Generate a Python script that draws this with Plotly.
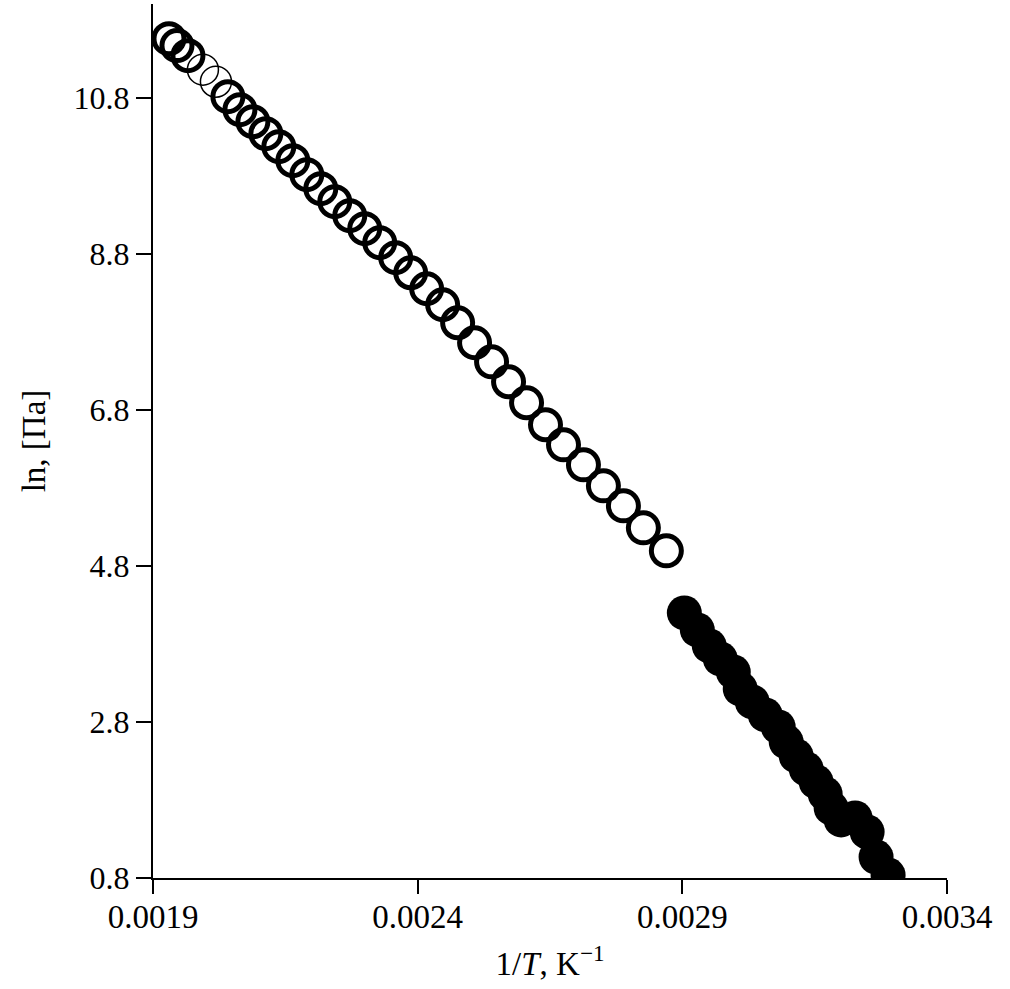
import plotly.graph_objects as go

# Open circles (thick outline)
open_x = [0.0019302, 0.0019453, 0.0019660, 0.0020415, 0.0020642, 0.0020887, 0.0021132,
          0.0021377, 0.0021642, 0.0021906, 0.0022170, 0.0022434, 0.0022717, 0.0023000,
          0.0023283, 0.0023585, 0.0023868, 0.0024170, 0.0024472, 0.0024755, 0.0025075,
          0.0025396, 0.0025717, 0.0026057, 0.0026415, 0.0026755, 0.0027132, 0.0027509,
          0.0027887, 0.0028264, 0.0028698]
open_y = [11.556, 11.467, 11.338, 10.813, 10.646, 10.492, 10.338,
          10.172, 9.992, 9.813, 9.633, 9.467, 9.287, 9.121,
          8.941, 8.749, 8.556, 8.351, 8.146, 7.915, 7.659,
          7.415, 7.159, 6.890, 6.608, 6.351, 6.095, 5.826,
          5.569, 5.287, 4.992]

# Open circles (thin outline)
thin_x = [0.0019943, 0.0020189]
thin_y = [11.159, 11.005]

# Filled circles
filled_x = [0.0029038, 0.0029283, 0.0029509, 0.0029717, 0.0029962, 0.0030094, 0.0030321,
            0.0030566, 0.0030811, 0.0030962, 0.0031151, 0.0031340, 0.0031528, 0.0031698,
            0.0031811, 0.0032000, 0.0032264, 0.0032491, 0.0032660, 0.0032887]
filled_y = [4.197, 3.979, 3.774, 3.608, 3.441, 3.223, 3.056,
            2.890, 2.736, 2.544, 2.364, 2.197, 2.031, 1.877,
            1.697, 1.544, 1.569, 1.390, 1.069, 0.838]

x_ticks = [0.0019, 0.0024, 0.0029, 0.0034]
x_labels = ["0.0019", "0.0024", "0.0029", "0.0034"]
y_ticks = [0.8, 2.8, 4.8, 6.8, 8.8, 10.8]
y_labels = ["0.8", "2.8", "4.8", "6.8", "8.8", "10.8"]

FONT = "Liberation Serif"

fig = go.Figure()
fig.add_trace(go.Scatter(
    x=thin_x, y=thin_y, mode="markers",
    marker=dict(symbol="circle-open", size=31, color="black", line=dict(width=1.5, color="black")),
    showlegend=False))
fig.add_trace(go.Scatter(
    x=open_x, y=open_y, mode="markers",
    marker=dict(symbol="circle", size=30, color="rgba(0,0,0,0)", line=dict(width=5, color="black")),
    showlegend=False))
fig.add_trace(go.Scatter(
    x=filled_x, y=filled_y, mode="markers",
    marker=dict(symbol="circle", size=35, color="black", line=dict(width=0)),
    showlegend=False))

fig.update_layout(
    width=1010, height=989,
    margin=dict(l=153, r=63, t=4, b=111),
    paper_bgcolor="white", plot_bgcolor="white",
    font=dict(family=FONT, size=33, color="black"),
    xaxis=dict(
        range=[0.0019, 0.0034], tickvals=x_ticks, ticktext=x_labels,
        showline=True, linecolor="black", linewidth=2, mirror=False,
        ticks="outside", ticklen=14, tickwidth=2, tickcolor="black",
        showgrid=False, zeroline=False,
        tickfont=dict(family=FONT, size=33),
        ticklabelstandoff=-6,
        title=dict(text="1/<i>T</i>, K<sup>\u22121</sup>", font=dict(family=FONT, size=33), standoff=18),
    ),
    yaxis=dict(
        range=[0.8, 12.0], tickvals=y_ticks, ticktext=y_labels,
        showline=True, linecolor="black", linewidth=2, mirror=False,
        ticks="outside", ticklen=15, tickwidth=2, tickcolor="black",
        showgrid=False, zeroline=False,
        tickfont=dict(family=FONT, size=32),
        title=dict(text="ln, [\u041f\u0430]", font=dict(family=FONT, size=33), standoff=18),
    ),
)

fig.write_html("out.html", config={"displayModeBar": False},
               post_script="document.body.style.margin='0';")
